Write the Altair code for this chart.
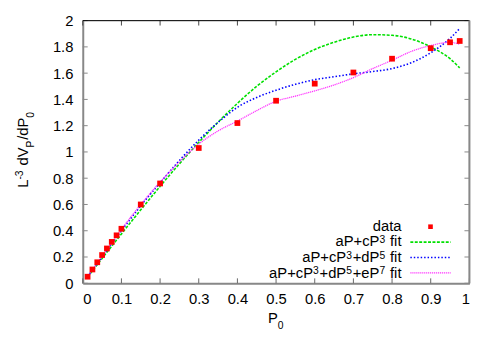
import altair as alt
import pandas as pd

# measured data
px = [0.0125, 0.025, 0.0375, 0.05, 0.0625, 0.075, 0.0875, 0.1, 0.15, 0.2,
      0.3, 0.4, 0.5, 0.6, 0.7, 0.8, 0.9, 0.95, 0.975]
py = [0.05, 0.105, 0.16, 0.215, 0.265, 0.315, 0.365, 0.415, 0.60, 0.76,
      1.03, 1.22, 1.39, 1.52, 1.605, 1.71, 1.79, 1.835, 1.845]

# fit curves
fx = [0.0125, 0.05, 0.1, 0.15, 0.2, 0.25, 0.3, 0.35, 0.4, 0.45, 0.5, 0.55,
      0.6, 0.65, 0.7, 0.75, 0.8, 0.85, 0.9, 0.95, 0.975]
fit3 = [0.047, 0.189, 0.376, 0.559, 0.738, 0.91, 1.073, 1.227, 1.37, 1.50, 1.61,
        1.705, 1.78, 1.835, 1.875, 1.893, 1.888, 1.86, 1.80, 1.71, 1.64]
fit5 = [0.05, 0.2, 0.40, 0.59, 0.765, 0.935, 1.09, 1.225, 1.34, 1.415, 1.47,
        1.515, 1.55, 1.573, 1.595, 1.612, 1.635, 1.68, 1.755, 1.865, 1.94]
fit7 = [0.052, 0.205, 0.41, 0.60, 0.77, 0.925, 1.06, 1.16, 1.235, 1.315, 1.386,
        1.425, 1.465, 1.51, 1.566, 1.635, 1.698, 1.766, 1.81, 1.835, 1.82]

# legend labels as (text, kind) pieces: kind 0 normal, 1 superscript, -1 subscript
legend_rows = [
    [("data", 0)],
    [("aP+cP", 0), ("3", 1), (" fit", 0)],
    [("aP+cP", 0), ("3", 1), ("+dP", 0), ("5", 1), (" fit", 0)],
    [("aP+cP", 0), ("3", 1), ("+dP", 0), ("5", 1), ("+eP", 0), ("7", 1), (" fit", 0)],
]
ytitle = [("L", 0), ("-3", 1), (" dV", 0), ("P", -1), ("/dP", 0), ("0", -1)]
xtitle = [("P", 0), ("0", -1)]
xticks = [0, 0.1, 0.2, 0.3, 0.4, 0.5, 0.6, 0.7, 0.8, 0.9, 1]
yticks = [0, 0.2, 0.4, 0.6, 0.8, 1, 1.2, 1.4, 1.6, 1.8, 2]

W, H = 393, 267
FONT = "Liberation Sans"
FS = 15
SFS = 10.5

# Arial/Liberation Sans advance widths (em)
ADV = {'a': .556, 'P': .667, '+': .584, 'c': .5, 'd': .556, 'e': .556, 'f': .278,
       'i': .222, 't': .278, ' ': .278, 'L': .556, 'V': .667, '/': .278, '-': .333}
def tw(s, size):
    return sum(ADV.get(ch, .556) for ch in s) * size

GAP = 0.8  # small gap after a raised/lowered piece

xs = alt.Scale(domain=[0, 1], nice=False, zero=False)
ys = alt.Scale(domain=[0, 2], nice=False, zero=False)

dpts = pd.DataFrame({"x": px, "y": py})
fits = pd.DataFrame({"x": fx, "f3": fit3, "f5": fit5, "f7": fit7})
one = pd.DataFrame({"k": [0]})

xaxis = alt.Axis(values=xticks, format="~g", title=None, tickSize=0, labelPadding=9,
                 domainColor="#888888", domainWidth=2, grid=False, labelFontSize=FS,
                 labelFont=FONT, labelColor="#000")
yaxis = alt.Axis(values=yticks, format="~g", title=None, tickSize=0, labelPadding=10,
                 domainColor="#888888", domainWidth=2, grid=False, labelFontSize=FS,
                 labelFont=FONT, labelColor="#000")

base = alt.Chart(fits)

GREEN = ("#00e000", [3, 1.5], 1.6)
BLUE = ("#0000ff", [1.5, 2], 1.6)
MAG = ("#ff33ff", [1.2, 0.8], 1.3)

def fitline(col, style):
    c, d, w = style
    return base.mark_line(color=c, strokeDash=d, strokeWidth=w,
                          interpolate="monotone", clip=True).encode(
        x=alt.X("x:Q", scale=xs, axis=xaxis),
        y=alt.Y(f"{col}:Q", scale=ys, axis=yaxis))

l3 = fitline("f3", GREEN)
l5 = fitline("f5", BLUE)
l7 = fitline("f7", MAG)

pts = alt.Chart(dpts).mark_square(color="#ff0000", size=34, opacity=1).encode(
    x=alt.X("x:Q", scale=xs, axis=xaxis), y=alt.Y("y:Q", scale=ys, axis=yaxis))

# inward ticks
xt = pd.DataFrame({"t": xticks})
yt = pd.DataFrame({"t": yticks})
tick_bot = alt.Chart(xt).mark_rule(color="#666666", strokeWidth=1).encode(
    x=alt.X("t:Q", scale=xs, axis=xaxis), y=alt.value(H), y2=alt.value(H - 5))
tick_top = alt.Chart(xt).mark_rule(color="#444444", strokeWidth=1).encode(
    x=alt.X("t:Q", scale=xs, axis=xaxis), y=alt.value(0), y2=alt.value(5))
tick_left = alt.Chart(yt).mark_rule(color="#888888", strokeWidth=1).encode(
    y=alt.Y("t:Q", scale=ys, axis=yaxis), x=alt.value(0), x2=alt.value(5))
tick_right = alt.Chart(yt).mark_rule(color="#888888", strokeWidth=1).encode(
    y=alt.Y("t:Q", scale=ys, axis=yaxis), x=alt.value(W), x2=alt.value(W - 5))

top_border = alt.Chart(one).mark_rule(color="#000000", strokeWidth=1).encode(
    x=alt.value(0), x2=alt.value(W), y=alt.value(0))
right_border = alt.Chart(one).mark_rule(color="#888888", strokeWidth=2).encode(
    x=alt.value(W), y=alt.value(0), y2=alt.value(H))

def piece_adv(text, kind):
    size = FS if kind == 0 else SFS
    return tw(text, size) + (GAP if kind != 0 else 0)

def horiz_text(pieces, x_start, y_base, sup_shift=3.5, sub_shift=6.5):
    layers = []
    x = x_start
    for text, kind in pieces:
        lead = len(text) - len(text.lstrip(" "))
        size = FS if kind == 0 else SFS
        x += tw(" " * lead, size)
        vis = text.strip(" ")
        yy = y_base - sup_shift if kind == 1 else (y_base + sub_shift if kind == -1 else y_base)
        layers.append(alt.Chart(one).mark_text(text=vis, align="left", baseline="alphabetic",
                                              fontSize=size, font=FONT, color="#000").encode(
            x=alt.value(x), y=alt.value(yy)))
        x += tw(vis, size) + (GAP if kind != 0 else 0)
    return layers

def vert_text(pieces, x_base, y_center, sup_shift=5.3, sub_shift=6.5):
    total = sum(piece_adv(t, k) for t, k in pieces)
    y = y_center + total / 2
    layers = []
    for text, kind in pieces:
        lead = len(text) - len(text.lstrip(" "))
        size = FS if kind == 0 else SFS
        y -= tw(" " * lead, size)
        vis = text.strip(" ")
        xx = x_base - sup_shift if kind == 1 else (x_base + sub_shift if kind == -1 else x_base)
        layers.append(alt.Chart(one).mark_text(text=vis, align="left", baseline="alphabetic",
                                              angle=270, fontSize=size, font=FONT,
                                              color="#000").encode(
            x=alt.value(xx), y=alt.value(y)))
        y -= tw(vis, size) + (GAP if kind != 0 else 0)
    return layers

# legend
LX_RIGHT = 324
LX0, LX1 = 333, 374
text_base = [213.8, 229.6, 245.4, 261.2]
sample_y = [209.5, 225.2, 240.8, 256.4]
leg = []
for i, row in enumerate(legend_rows):
    total = sum(piece_adv(t, k) for t, k in row)
    leg += horiz_text(row, LX_RIGHT - total, text_base[i])
leg.append(alt.Chart(one).mark_square(color="#ff0000", size=22, opacity=1).encode(
    x=alt.value((LX0 + LX1) / 2), y=alt.value(sample_y[0])))
for i, (c, d, w) in enumerate([GREEN, BLUE, MAG]):
    leg.append(alt.Chart(one).mark_rule(color=c, strokeDash=d, strokeWidth=w).encode(
        x=alt.value(LX0), x2=alt.value(LX1), y=alt.value(sample_y[i + 1])))

# axis titles
xw = sum(piece_adv(t, k) for t, k in xtitle)
titles = horiz_text(xtitle, W / 2 - xw / 2, 307, sub_shift=6.5)
titles += vert_text(ytitle, -55.7, 131)

chart = alt.layer(tick_bot, tick_top, tick_left, tick_right, top_border, right_border,
                  l3, l5, l7, pts, *leg, *titles).properties(
    width=W, height=H,
    autosize=alt.AutoSizeParams(type="none"),
    padding={"left": 76, "top": 10, "right": 23, "bottom": 65},
).configure_view(stroke=None).configure(background="#ffffff")

chart.save("out.html", embed_options={"renderer": "svg", "actions": False})
